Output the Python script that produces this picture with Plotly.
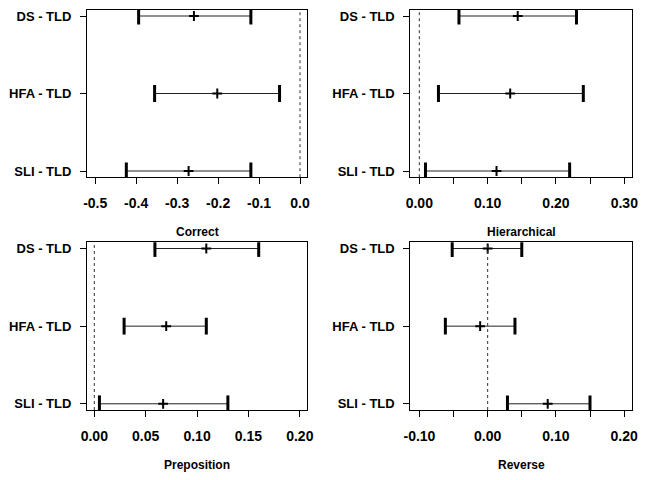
import plotly.graph_objects as go

# ---- data ----
groups = ["DS - TLD", "HFA - TLD", "SLI - TLD"]
category_order = ["SLI - TLD", "HFA - TLD", "DS - TLD"]  # bottom to top

correct_est = [-0.259, -0.202, -0.272]
correct_lo = [-0.394, -0.355, -0.424]
correct_hi = [-0.120, -0.050, -0.120]

hier_est = [0.144, 0.133, 0.113]
hier_lo = [0.058, 0.028, 0.009]
hier_hi = [0.230, 0.240, 0.220]

prep_est = [0.109, 0.070, 0.067]
prep_lo = [0.059, 0.029, 0.005]
prep_hi = [0.160, 0.109, 0.130]

rev_est = [0.000, -0.011, 0.088]
rev_lo = [-0.052, -0.062, 0.029]
rev_hi = [0.050, 0.040, 0.150]

ref_value = 0.0

correct_ticks = [-0.5, -0.4, -0.3, -0.2, -0.1, 0.0]
correct_ticktext = ["-0.5", "-0.4", "-0.3", "-0.2", "-0.1", "0.0"]
hier_ticks = [0.0, 0.05, 0.10, 0.15, 0.20, 0.25, 0.30]
hier_ticktext = ["0.00", "", "0.10", "", "0.20", "", "0.30"]
prep_ticks = [0.0, 0.05, 0.10, 0.15, 0.20]
prep_ticktext = ["0.00", "0.05", "0.10", "0.15", "0.20"]
rev_ticks = [-0.10, -0.05, 0.0, 0.05, 0.10, 0.15, 0.20]
rev_ticktext = ["-0.10", "", "0.00", "", "0.10", "", "0.20"]

titles = ["Correct", "Hierarchical", "Preposition", "Reverse"]

# ---- layout geometry ----
W, H = 649, 480
left_px = (87, 307)
right_px = (410.3, 632.3)
top_px = (9.8, 177.2)
bot_px = (242.3, 410.0)

def xdom(p):
    return [p[0] / W, p[1] / W]

def ydom(p):
    return [1 - p[1] / H, 1 - p[0] / H]

panels = [
    dict(est=correct_est, lo=correct_lo, hi=correct_hi, xr=[-0.52, 0.017],
         tv=correct_ticks, tt=correct_ticktext, xd=xdom(left_px), yd=ydom(top_px), tpy=232),
    dict(est=hier_est, lo=hier_lo, hi=hier_hi, xr=[-0.0132, 0.3117],
         tv=hier_ticks, tt=hier_ticktext, xd=xdom(right_px), yd=ydom(top_px), tpy=232),
    dict(est=prep_est, lo=prep_lo, hi=prep_hi, xr=[-0.0071, 0.207],
         tv=prep_ticks, tt=prep_ticktext, xd=xdom(left_px), yd=ydom(bot_px), tpy=465),
    dict(est=rev_est, lo=rev_lo, hi=rev_hi, xr=[-0.1134, 0.212],
         tv=rev_ticks, tt=rev_ticktext, xd=xdom(right_px), yd=ydom(bot_px), tpy=465),
]

FONT = "Liberation Sans, Arial, sans-serif"

fig = go.Figure()
layout = dict(
    width=W, height=H, margin=dict(l=0, r=0, t=0, b=0),
    paper_bgcolor="white", plot_bgcolor="white", showlegend=False,
    font=dict(family=FONT, size=12, color="black"),
)
shapes = []
annotations = []

for i, p in enumerate(panels):
    n = "" if i == 0 else str(i + 1)
    xa, ya = "x" + n, "y" + n
    # CI segments
    xs, ys = [], []
    for g, lo, hi in zip(groups, p["lo"], p["hi"]):
        xs += [lo, hi, None]
        ys += [g, g, None]
    fig.add_trace(go.Scatter(x=xs, y=ys, mode="lines", xaxis=xa, yaxis=ya,
                             line=dict(color="#222222", width=1), hoverinfo="skip"))
    # end brackets
    fig.add_trace(go.Scatter(x=p["lo"] + p["hi"], y=groups + groups, mode="markers",
                             xaxis=xa, yaxis=ya,
                             marker=dict(symbol="line-ns", size=12,
                                         line=dict(color="black", width=3))))
    # point estimates
    fig.add_trace(go.Scatter(x=p["est"], y=groups, mode="markers", xaxis=xa, yaxis=ya,
                             marker=dict(symbol="cross-thin", size=7,
                                         line=dict(color="black", width=2))))
    axis_common = dict(showgrid=False, zeroline=False, showline=True, mirror=True,
                       linecolor="black", linewidth=1, ticks="outside", ticklen=6,
                       tickcolor="black", tickwidth=1, automargin=False)
    layout["xaxis" + n] = dict(domain=p["xd"], range=p["xr"], anchor=ya,
                              tickmode="array", tickvals=p["tv"], ticktext=p["tt"],
                              tickfont=dict(family=FONT, size=14, color="black", weight="bold"),
                              ticklabelstandoff=7, **axis_common)
    layout["yaxis" + n] = dict(domain=p["yd"], anchor=xa, type="category",
                              categoryorder="array", categoryarray=category_order,
                              range=[-0.08, 2.08],
                              tickfont=dict(family=FONT, size=13, color="black", weight="bold"),
                              ticklabelstandoff=6, **axis_common)
    shapes.append(dict(type="line", xref=xa, yref=ya + " domain", x0=ref_value, x1=ref_value,
                       y0=0, y1=1, line=dict(color="#333333", width=1, dash="3px,3px")))
    annotations.append(dict(text="<b>" + titles[i] + "</b>", xref="paper", yref="paper",
                            x=(p["xd"][0] + p["xd"][1]) / 2, y=1 - p["tpy"] / H,
                            showarrow=False, xanchor="center", yanchor="middle",
                            font=dict(family=FONT, size=12, color="black")))

layout["shapes"] = shapes
layout["annotations"] = annotations
fig.update_layout(**layout)
fig.write_html("out.html", config={"displayModeBar": False},
               post_script="document.body.style.margin='0';")
